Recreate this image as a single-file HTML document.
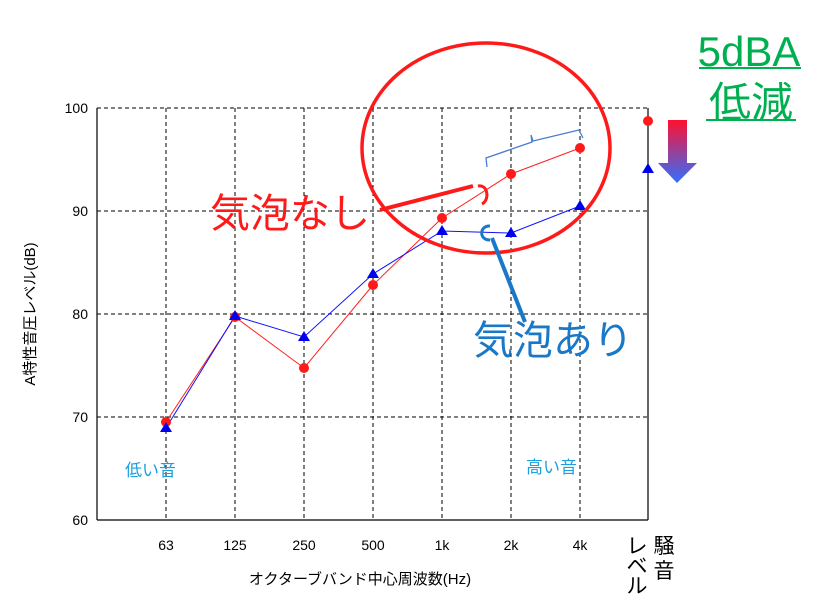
<!DOCTYPE html>
<html><head><meta charset="utf-8"><style>
body{margin:0;background:#fff;}
svg text{font-family:"Liberation Sans","Noto Sans CJK JP",sans-serif;}
</style></head><body>
<svg width="816" height="606" xmlns="http://www.w3.org/2000/svg">
<defs><linearGradient id="g" x1="0" y1="0" x2="0" y2="1"><stop offset="0" stop-color="#ff1030"/><stop offset="1" stop-color="#3070ff"/></linearGradient></defs>
<g stroke="#000" stroke-width="1" stroke-dasharray="4,3" fill="none">
<line x1="97" y1="108" x2="648" y2="108"/><line x1="97" y1="211" x2="648" y2="211"/><line x1="97" y1="314" x2="648" y2="314"/><line x1="97" y1="417" x2="648" y2="417"/>
<line x1="166" y1="108" x2="166" y2="520"/><line x1="235" y1="108" x2="235" y2="520"/><line x1="304" y1="108" x2="304" y2="520"/><line x1="373" y1="108" x2="373" y2="520"/><line x1="442" y1="108" x2="442" y2="520"/><line x1="511" y1="108" x2="511" y2="520"/><line x1="580" y1="108" x2="580" y2="520"/>
</g>
<g stroke="#000" stroke-width="1.2"><line x1="97" y1="108" x2="97" y2="520"/><line x1="97" y1="520" x2="648" y2="520"/><line x1="648" y1="108" x2="648" y2="520"/></g>
<g font-size="14" fill="#000" text-anchor="end"><text x="88" y="113">100</text><text x="88" y="216">90</text><text x="88" y="319">80</text><text x="88" y="422">70</text><text x="88" y="525">60</text></g>
<g font-size="14" fill="#000" text-anchor="middle"><text x="166" y="550">63</text><text x="235" y="550">125</text><text x="304" y="550">250</text><text x="373" y="550">500</text><text x="442" y="550">1k</text><text x="511" y="550">2k</text><text x="580" y="550">4k</text></g>
<text x="360" y="584" font-size="15" text-anchor="middle">オクターブバンド中心周波数(Hz)</text>
<text transform="translate(35,314) rotate(-90)" font-size="15" text-anchor="middle">A特性音圧レベル(dB)</text>
<g font-size="21" text-anchor="middle"><text x="664" y="553">騒</text><text x="664" y="578">音</text><text x="637" y="553">レ</text><text x="637" y="573">ベ</text><text x="637" y="593">ル</text></g>
<polyline points="166,422 235,317 304,368 373,285 442,218 511,174 580,148" fill="none" stroke="#ff2020" stroke-width="1"/>
<polyline points="166,428 235,316 304,337 373,274 442,231 511,233 580,206" fill="none" stroke="#1010ff" stroke-width="1"/>
<g fill="#ff1a1a"><circle cx="166" cy="422" r="5"/><circle cx="235" cy="317" r="5"/><circle cx="304" cy="368" r="5"/><circle cx="373" cy="285" r="5"/><circle cx="442" cy="218" r="5"/><circle cx="511" cy="174" r="5"/><circle cx="580" cy="148" r="5"/><circle cx="648" cy="121" r="5"/></g>
<g fill="#0000ee">
<polygon points="166,422 172,432 160,432"/><polygon points="235,310 241,320 229,320"/><polygon points="304,331 310,341 298,341"/><polygon points="373,268 379,278 367,278"/><polygon points="442,225 448,235 436,235"/><polygon points="511,227 517,237 505,237"/><polygon points="580,200 586,210 574,210"/><polygon points="648,163 654,173 642,173"/></g>
<ellipse cx="486" cy="148" rx="124" ry="105" fill="none" stroke="#ff1a1a" stroke-width="3.5"/>
<line x1="380" y1="210" x2="473" y2="186" stroke="#ff1a1a" stroke-width="4"/>
<path d="M478,186 C488,184 490,200 482,204" fill="none" stroke="#ff1a1a" stroke-width="3"/>
<line x1="525" y1="322" x2="492" y2="238" stroke="#1a78c8" stroke-width="4"/>
<path d="M490,226 C480,225 478,240 490,240" fill="none" stroke="#1a78c8" stroke-width="3"/>
<path d="M487,167 L486,158 L532,142 L531,135 L533,141 L579,130 L583,138" fill="none" stroke="#4a7fd0" stroke-width="1.3"/>
<text x="210" y="227" font-size="40" fill="#ff1a1a">気泡なし</text>
<text x="473" y="354" font-size="40" fill="#1a78c8">気泡あり</text>
<text x="125" y="476" font-size="17" fill="#1aa0e0">低い音</text>
<text x="526" y="473" font-size="17" fill="#1aa0e0">高い音</text>
<text x="749" y="66" font-size="42" fill="#00b050" text-anchor="middle">5dBA</text>
<line x1="699" y1="68" x2="801" y2="68" stroke="#00b050" stroke-width="2"/>
<text x="751" y="117" font-size="42" fill="#00b050" text-anchor="middle">低減</text>
<line x1="706" y1="120" x2="796" y2="120" stroke="#00b050" stroke-width="2"/>
<polygon points="668,120 687,120 687,163 697,163 677,183 658,163 668,163" fill="url(#g)"/>
</svg>
</body></html>
